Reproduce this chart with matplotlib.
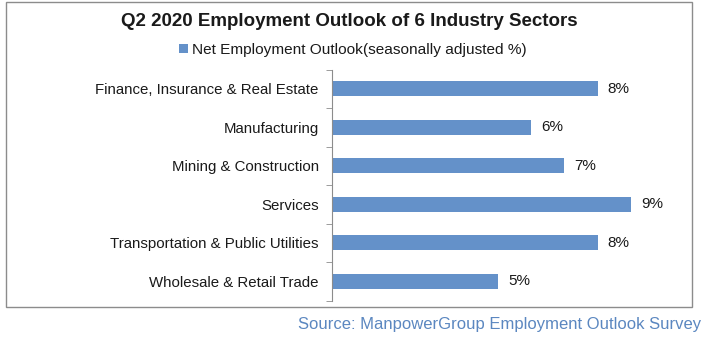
import matplotlib
matplotlib.use("Agg")
import matplotlib.pyplot as plt
from matplotlib.patches import Rectangle

plt.rcParams['font.family'] = ['Liberation Sans', 'DejaVu Sans']

sectors = ["Finance, Insurance & Real Estate", "Manufacturing", "Mining & Construction",
           "Services", "Transportation & Public Utilities", "Wholesale & Retail Trade"]
outlook = [8, 6, 7, 9, 8, 5]
series_name = "Net Employment Outlook(seasonally adjusted %)"
title = "Q2 2020 Employment Outlook of 6 Industry Sectors"
source = "Source: ManpowerGroup Employment Outlook Survey"

W, H = 724, 344
fig = plt.figure(figsize=(W / 100, H / 100), dpi=100)

# chart frame
fig.patches.append(Rectangle((6 / W, 1 - 307 / H), 686 / W, 305 / H, transform=fig.transFigure,
                             fill=False, edgecolor="#8c8c8c", linewidth=1.0))

ax = fig.add_axes([332 / W, 1 - 300.5 / H, 332 / W, 231 / H])
y = list(range(len(sectors)))
bars = ax.barh(y, outlook, height=0.4, color="#6491c9", label=series_name)
ax.set_ylim(len(sectors) - 0.5, -0.5)
ax.set_xlim(0, 10)
ax.set_yticks(y)
ax.set_yticklabels(sectors, fontsize=10.8, color="#1a1a1a")
ax.set_yticks([i - 0.5 for i in range(len(sectors) + 1)], minor=True)
ax.tick_params(axis="y", which="major", length=0, pad=9.5)
ax.tick_params(axis="y", which="minor", length=4, color="#8c8c8c")
ax.set_xticks([])
for s in ["top", "right", "bottom"]:
    ax.spines[s].set_visible(False)
ax.spines["left"].set_color("#8c8c8c")

for b, v in zip(bars, outlook):
    ax.text(v + 0.3, b.get_y() + b.get_height() / 2, f"{v}%", va="center", ha="left",
            fontsize=11, color="#1a1a1a")

fig.text(349 / W, 1 - 22 / H, title, ha="center", va="center", fontsize=13.5,
         fontweight="bold", color="#1a1a1a")
fig.legend(loc="center", bbox_to_anchor=(353 / W, 1 - 50 / H), frameon=False, fontsize=11.1,
           handlelength=0.55, handleheight=0.55, handletextpad=0.3, labelcolor="#1a1a1a")
fig.text(701 / W, 1 - 325 / H, source, ha="right", va="center", fontsize=12, color="#5b87c0")

fig.savefig("out.png", dpi=100)
